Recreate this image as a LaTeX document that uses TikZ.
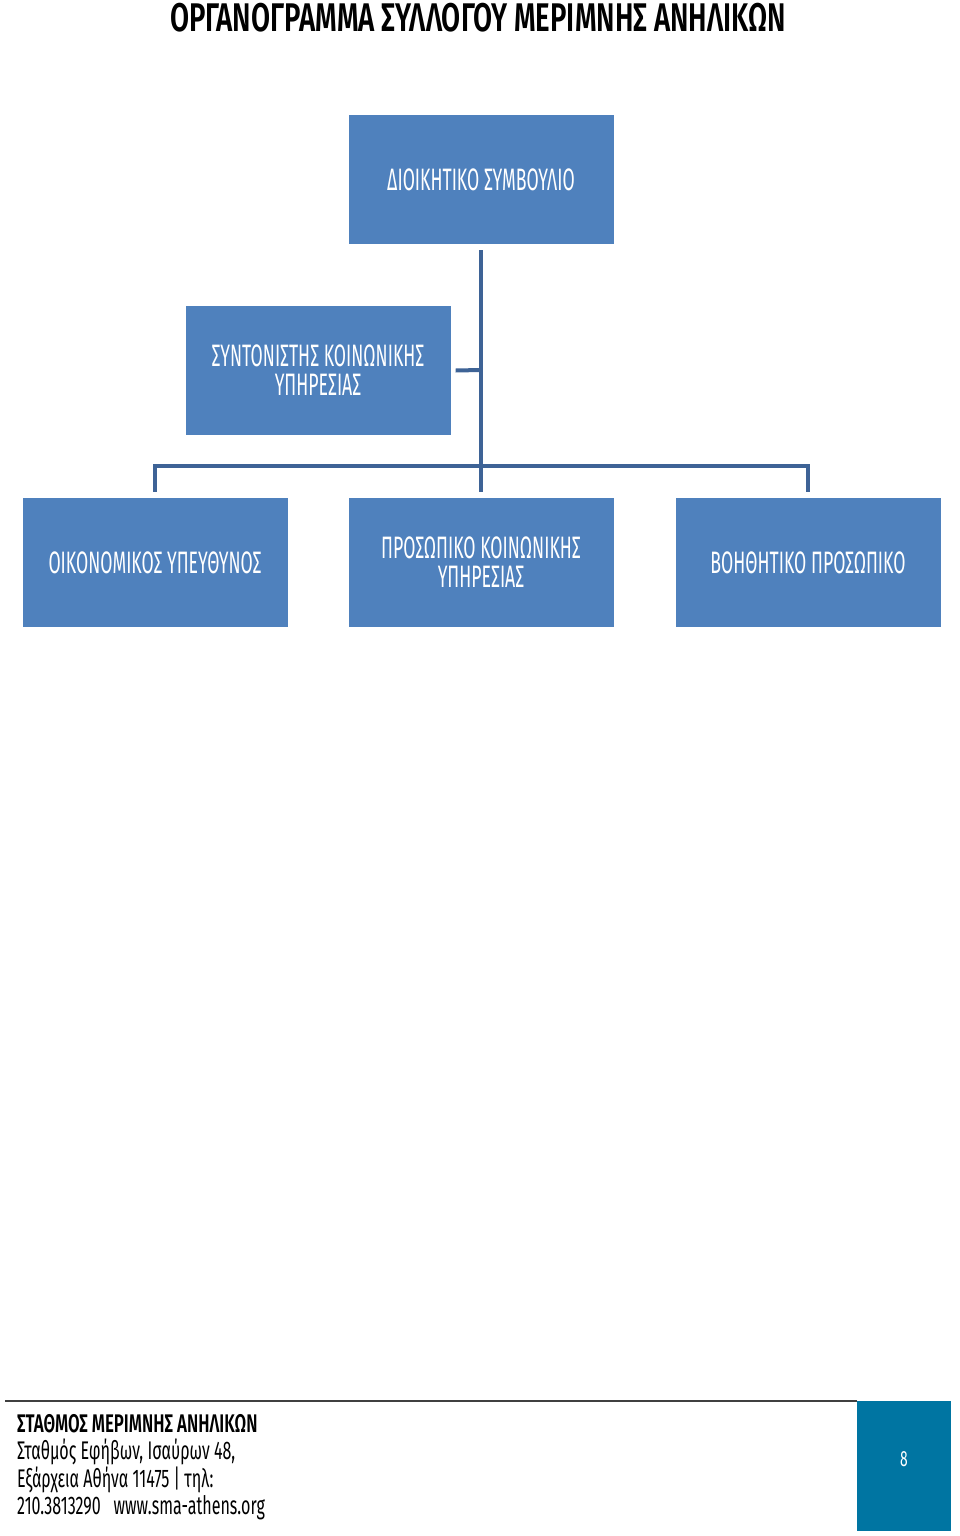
\documentclass[tikz,border=0pt]{standalone}
\usepackage{fontspec}
\setmainfont{Fira Sans}[FakeStretch=0.57]
\newfontfamily\titlefont{Fira Sans}[FakeStretch=0.69,UprightFont=* SemiBold]
\newfontfamily\foottitlefont{Fira Sans}[FakeStretch=0.66,UprightFont=* SemiBold]
\newfontfamily\footfont{Fira Sans}[FakeStretch=0.63]
\definecolor{boxblue}{RGB}{79,129,189}
\definecolor{linkblue}{RGB}{62,99,150}
\definecolor{teal}{RGB}{0,117,162}
\begin{document}
\begin{tikzpicture}[x=1pt,y=-1pt,
  orgbox/.style={fill=boxblue, draw=none, minimum width=265pt, minimum height=129pt, text=white, align=center, font=\fontsize{31}{29}\selectfont, inner sep=0pt},
  link/.style={draw=linkblue, line width=4pt},
  foot/.style={anchor=west, font=\footfont\fontsize{25.5}{26}\selectfont, inner sep=0pt}]
\useasboundingbox (0,0) rectangle (960,1536);
\node[font=\titlefont\fontsize{40}{42}\selectfont, inner sep=0pt] (title) at (478,18) {ΟΡΓΑΝΟΓΡΑΜΜΑ ΣΥΛΛΟΓΟΥ ΜΕΡΙΜΝΗΣ ΑΝΗΛΙΚΩΝ};
\node[orgbox] (board) at (481,179.5) {ΔΙΟΙΚΗΤΙΚΟ ΣΥΜΒΟΥΛΙΟ};
\node[orgbox] (coord) at (318,370.5) {ΣΥΝΤΟΝΙΣΤΗΣ ΚΟΙΝΩΝΙΚΗΣ\\ΥΠΗΡΕΣΙΑΣ};
\node[orgbox] (fin) at (155,562.5) {ΟΙΚΟΝΟΜΙΚΟΣ ΥΠΕΥΘΥΝΟΣ};
\node[orgbox] (staff) at (481,562.5) {ΠΡΟΣΩΠΙΚΟ ΚΟΙΝΩΝΙΚΗΣ\\ΥΠΗΡΕΣΙΑΣ};
\node[orgbox] (aux) at (808,562.5) {ΒΟΗΘΗΤΙΚΟ ΠΡΟΣΩΠΙΚΟ};
\coordinate (bus) at (481,466);
\coordinate (cj) at (481,370);
\draw[link] ([yshift=-6pt]board.south) -- ([yshift=6pt]staff.north);
\draw[link] ([xshift=5pt]coord.east) -- (cj);
\draw[link] ([yshift=6pt]fin.north) |- (bus) -| ([yshift=6pt]aux.north);
% footer
\coordinate (fl) at (5,1401);
\coordinate (fr) at (857,1401);
\draw[line width=2pt, draw=black!75] (fl) -- (fr);
\fill[teal] (857,1401) rectangle (951,1531);
\node[text=white, font=\footfont\fontsize{22}{24}\selectfont, inner sep=0pt] (page) at (904,1459) {8};
\node[foot, font=\foottitlefont\fontsize{25.5}{26}\selectfont] (f1) at (17,1424) {ΣΤΑΘΜΟΣ ΜΕΡΙΜΝΗΣ ΑΝΗΛΙΚΩΝ};
\node[foot] (f2) at (17,1452) {Σταθμός Εφήβων, Ισαύρων 48,};
\node[foot] (f3) at (17,1480) {Εξάρχεια Αθήνα 11475 | τηλ:};
\node[foot] (f4) at (17,1508) {210.3813290 \ \ www.sma-athens.org};
\end{tikzpicture}
\end{document}
